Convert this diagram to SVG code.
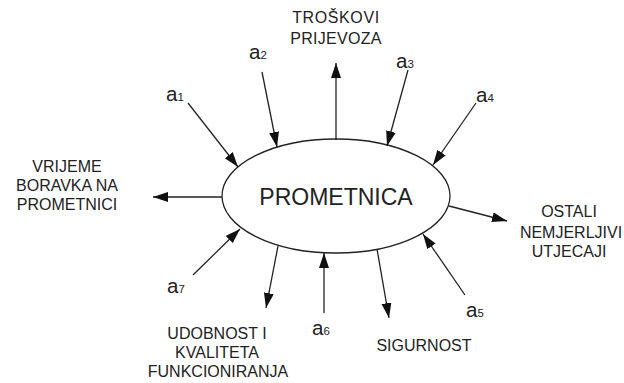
<svg xmlns="http://www.w3.org/2000/svg" width="624" height="383" viewBox="0 0 624 383">
<style>
text{font-family:"Liberation Sans",Arial,sans-serif;fill:#222}
.lbl{font-size:16px;text-anchor:middle}
.a{font-size:20.5px}
.s{font-size:11.5px}
.c line{stroke:#222;stroke-width:1.3;marker-end:url(#ah)}
</style>
<defs>
<marker id="ah" markerUnits="userSpaceOnUse" markerWidth="16" markerHeight="12" refX="15" refY="5" orient="auto">
<path d="M0,0 L15,5 L0,10 z" fill="#111"/>
</marker>
</defs>
<rect width="624" height="383" fill="#fff"/>
<g id="prometnica">
<ellipse cx="336" cy="196" rx="114" ry="57" fill="#fff" stroke="#222" stroke-width="1.3"/>
<text x="336" y="205" style="font-size:23px;text-anchor:middle">PROMETNICA</text>
</g>
<g class="c" id="connectors">
<line x1="188" y1="103" x2="238" y2="167"/>
<line x1="262" y1="72" x2="277" y2="147"/>
<line x1="336" y1="140" x2="336" y2="63"/>
<line x1="408" y1="70" x2="387" y2="146"/>
<line x1="476" y1="103" x2="433" y2="165"/>
<line x1="222" y1="197" x2="153" y2="197"/>
<line x1="449" y1="206" x2="507" y2="221"/>
<line x1="193" y1="275" x2="240" y2="229"/>
<line x1="278" y1="246" x2="266" y2="308"/>
<line x1="324" y1="313" x2="324" y2="253"/>
<line x1="377" y1="249" x2="389" y2="318"/>
<line x1="465" y1="295" x2="423" y2="234"/>
</g>
<g id="troskovi"><text class="lbl" x="336" y="23" letter-spacing="0.6">TROŠKOVI</text><text class="lbl" x="336" y="44" letter-spacing="0.3">PRIJEVOZA</text></g>
<g id="vrijeme"><text class="lbl" x="67" y="172">VRIJEME</text><text class="lbl" x="67" y="191">BORAVKA NA</text><text class="lbl" x="67" y="210">PROMETNICI</text></g>
<g id="ostali"><text class="lbl" x="569" y="217">OSTALI</text><text class="lbl" x="571" y="238">NEMJERLJIVI</text><text class="lbl" x="569" y="257">UTJECAJI</text></g>
<g id="udobnost"><text class="lbl" x="217" y="339">UDOBNOST I</text><text class="lbl" x="217" y="358">KVALITETA</text><text class="lbl" x="218" y="377">FUNKCIONIRANJA</text></g>
<g id="sigurnost"><text class="lbl" x="424" y="351">SIGURNOST</text></g>
<g id="a1"><text x="166" y="101"><tspan class="a">a</tspan><tspan class="s">1</tspan></text></g>
<g id="a2"><text x="249" y="59"><tspan class="a">a</tspan><tspan class="s">2</tspan></text></g>
<g id="a3"><text x="396" y="68"><tspan class="a">a</tspan><tspan class="s">3</tspan></text></g>
<g id="a4"><text x="476" y="102"><tspan class="a">a</tspan><tspan class="s">4</tspan></text></g>
<g id="a5"><text x="466" y="317"><tspan class="a">a</tspan><tspan class="s">5</tspan></text></g>
<g id="a6"><text x="312" y="335"><tspan class="a">a</tspan><tspan class="s">6</tspan></text></g>
<g id="a7"><text x="167" y="293"><tspan class="a">a</tspan><tspan class="s">7</tspan></text></g>
</svg>
